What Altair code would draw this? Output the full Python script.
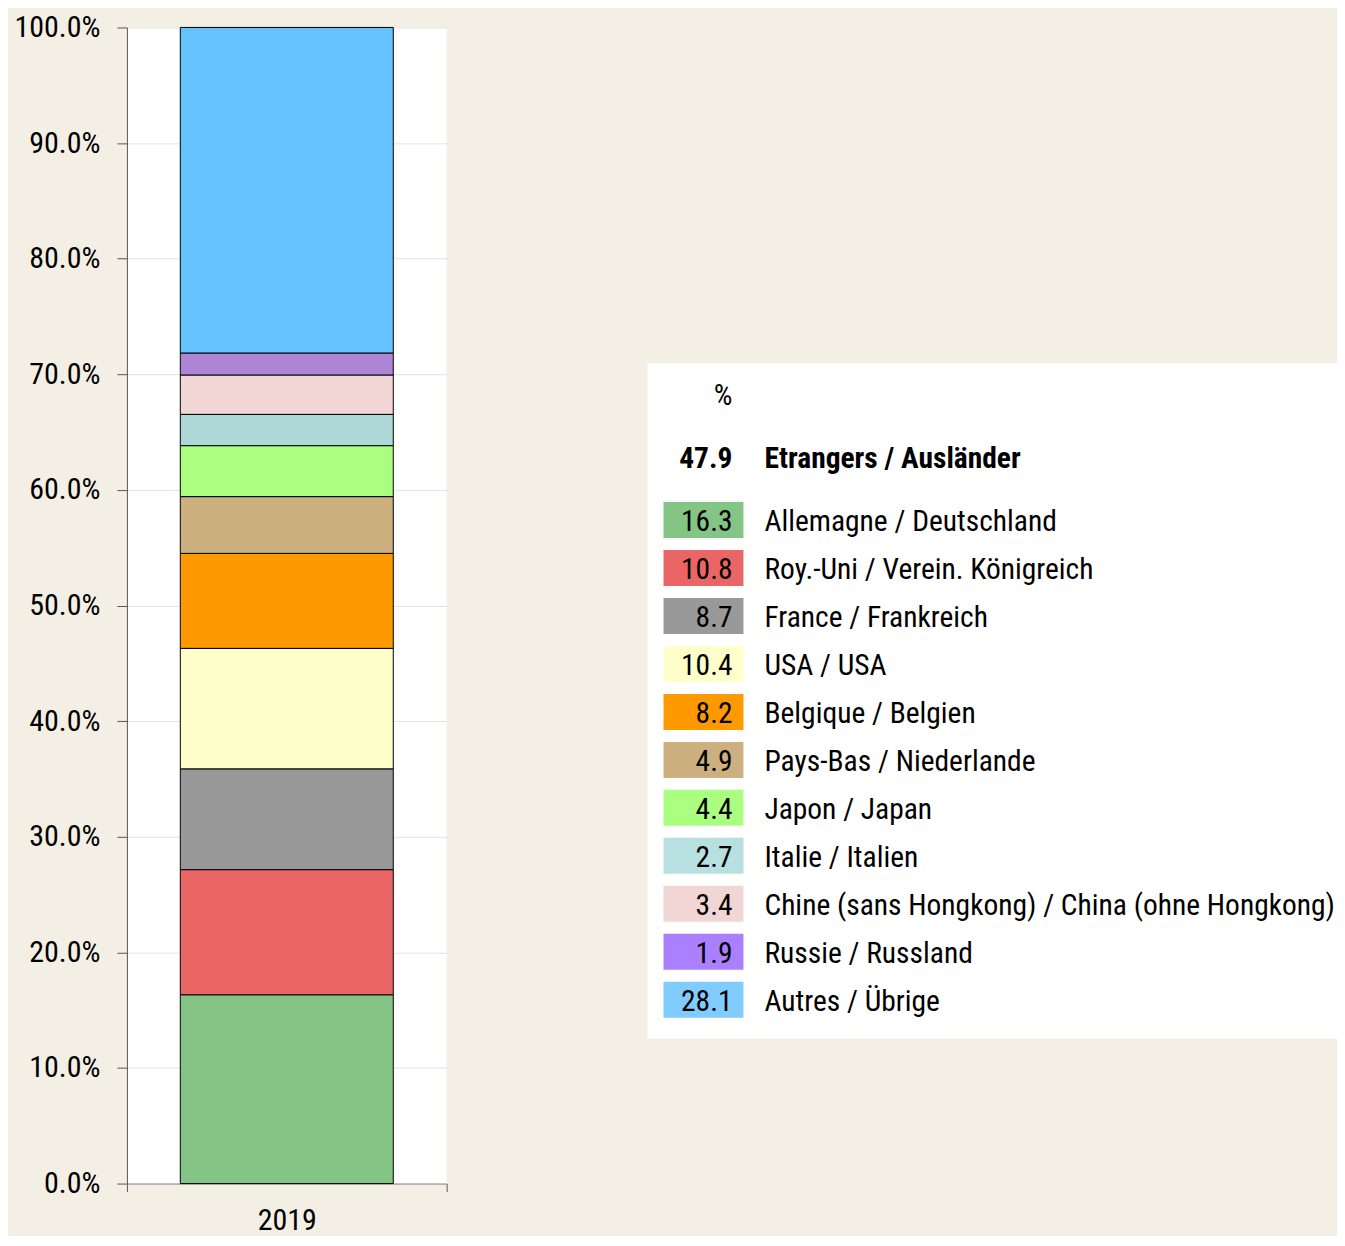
import altair as alt
import pandas as pd

# ---------------- data ----------------
countries = [
    "Allemagne / Deutschland",
    "Roy.-Uni / Verein. Königreich",
    "France / Frankreich",
    "USA / USA",
    "Belgique / Belgien",
    "Pays-Bas / Niederlande",
    "Japon / Japan",
    "Italie / Italien",
    "Chine (sans Hongkong) / China (ohne Hongkong)",
    "Russie / Russland",
    "Autres / Übrige",
]
values = [16.3, 10.8, 8.7, 10.4, 8.2, 4.9, 4.4, 2.7, 3.4, 1.9, 28.1]
year = "2019"
foreign_total = "47.9"
header_label = "Etrangers / Ausländer"
unit_label = "%"
y_ticks = [0.0, 0.1, 0.2, 0.3, 0.4, 0.5, 0.6, 0.7, 0.8, 0.9, 1.0]

# ---------------- styles ----------------
bar_colors = ["#84C484", "#EA6666", "#999999", "#FFFFCC", "#FF9900", "#CCB080",
              "#AAFF80", "#AED8D8", "#F2D6D6", "#AE85D6", "#66C2FF"]
legend_colors = ["#84C484", "#EA6666", "#999999", "#FFFFCC", "#FF9900", "#CCB080",
                 "#AAFF80", "#B8E0E0", "#F2D6D6", "#AA80FF", "#80CCFF"]

FONT = "'Liberation Sans Narrow', 'Arial Narrow', 'Roboto Condensed', 'DejaVu Sans Condensed', sans-serif"
FS_AXIS = 30
FS_LEG = 29.5
BG = "#F3EFE4"

PLOT_W, PLOT_H = 320, 1157
BOX_W, BOX_H = 690, 676
SPACER_H = 336
ROW_FIRST, ROW_STEP = 159, 48
HEADER_Y, UNIT_Y = 96, 33
CELL_HALF = 18

# ---------------- bar chart ----------------
df = pd.DataFrame({
    "country": countries,
    "value": values,
    "year": [year] * len(countries),
    "idx": list(range(len(countries))),
})

bars = alt.Chart(df).mark_bar(
    width=alt.RelativeBandSize(0.666), stroke="black", strokeWidth=1
).encode(
    x=alt.X("year:N", title=None,
            scale=alt.Scale(paddingInner=0, paddingOuter=0),
            axis=alt.Axis(labelAngle=0, tickBand="extent", tickSize=8,
                          tickColor="#555555", domainColor="#888888",
                          labelPadding=14)),
    y=alt.Y("value:Q", stack="normalize", title=None,
            scale=alt.Scale(domain=[0, 1], nice=False),
            axis=alt.Axis(labelExpr="format(datum.value, '.1%')", values=y_ticks,
                          tickSize=10, labelPadding=17, grid=True,
                          minExtent=115, maxExtent=115,
                          gridColor="#E3E3E3", domainColor="#555555",
                          tickColor="#555555")),
    color=alt.Color("country:N", scale=alt.Scale(domain=countries, range=bar_colors),
                    legend=None),
    order=alt.Order("idx:Q", sort="ascending"),
).properties(width=PLOT_W, height=PLOT_H,
             view=alt.ViewBackground(fill="white", strokeWidth=0))

# ---------------- legend table ----------------
leg = pd.DataFrame({
    "country": countries,
    "num": [f"{v:.1f}" for v in values],
    "lcolor": legend_colors,
    "ypos": [ROW_FIRST + ROW_STEP * i for i in range(len(countries))],
})
leg["top"] = leg["ypos"] - CELL_HALF - 2
leg["bot"] = leg["ypos"] + CELL_HALF - 2

head = pd.DataFrame({
    "num": [unit_label, foreign_total],
    "label": ["", header_label],
    "ypos": [UNIT_Y, HEADER_Y],
    "weight": ["normal", "bold"],
})

yscale = alt.Scale(domain=[0, BOX_H], reverse=True, nice=False, zero=False)

cells = alt.Chart(leg).mark_rect().encode(
    x=alt.value(16), x2=alt.value(96),
    y=alt.Y("top:Q", scale=yscale, axis=None), y2="bot:Q",
    color=alt.Color("lcolor:N", scale=None),
)
nums = alt.Chart(leg).mark_text(align="right", baseline="middle", font=FONT,
                                fontSize=FS_LEG, color="black").encode(
    x=alt.value(85), y=alt.Y("ypos:Q", scale=yscale, axis=None), text="num:N")
labels = alt.Chart(leg).mark_text(align="left", baseline="middle", font=FONT,
                                  fontSize=FS_LEG, color="black").encode(
    x=alt.value(117), y=alt.Y("ypos:Q", scale=yscale, axis=None), text="country:N")

head_unit = alt.Chart(head).transform_filter("datum.weight == 'normal'").mark_text(
    align="right", baseline="middle", font=FONT, fontSize=FS_LEG, color="black").encode(
    x=alt.value(85), y=alt.Y("ypos:Q", scale=yscale, axis=None), text="num:N")
head_num = alt.Chart(head).transform_filter("datum.weight == 'bold'").mark_text(
    align="right", baseline="middle", font=FONT, fontSize=FS_LEG, fontWeight="bold",
    color="black").encode(
    x=alt.value(85), y=alt.Y("ypos:Q", scale=yscale, axis=None), text="num:N")
head_lab = alt.Chart(head).transform_filter("datum.weight == 'bold'").mark_text(
    align="left", baseline="middle", font=FONT, fontSize=FS_LEG, fontWeight="bold",
    color="black").encode(
    x=alt.value(117), y=alt.Y("ypos:Q", scale=yscale, axis=None), text="label:N")

legend = alt.layer(cells, nums, labels, head_unit, head_num, head_lab).properties(
    width=BOX_W, height=BOX_H, view=alt.ViewBackground(fill="white", strokeWidth=0))

spacer = alt.Chart(pd.DataFrame({"t": [""]})).mark_text().encode(text="t:N").properties(
    width=BOX_W, height=SPACER_H, view=alt.ViewBackground(strokeWidth=0))

right = alt.vconcat(spacer, legend, spacing=0)

chart = alt.hconcat(bars, right, spacing=200).properties(
    background=BG,
    padding={"left": 4, "top": 4, "right": 0, "bottom": 0},
).configure_view(strokeWidth=0).configure_axis(
    labelFont=FONT, labelFontSize=FS_AXIS, labelColor="black")

chart.save("out.html", embed_options={"renderer": "svg", "actions": False})
